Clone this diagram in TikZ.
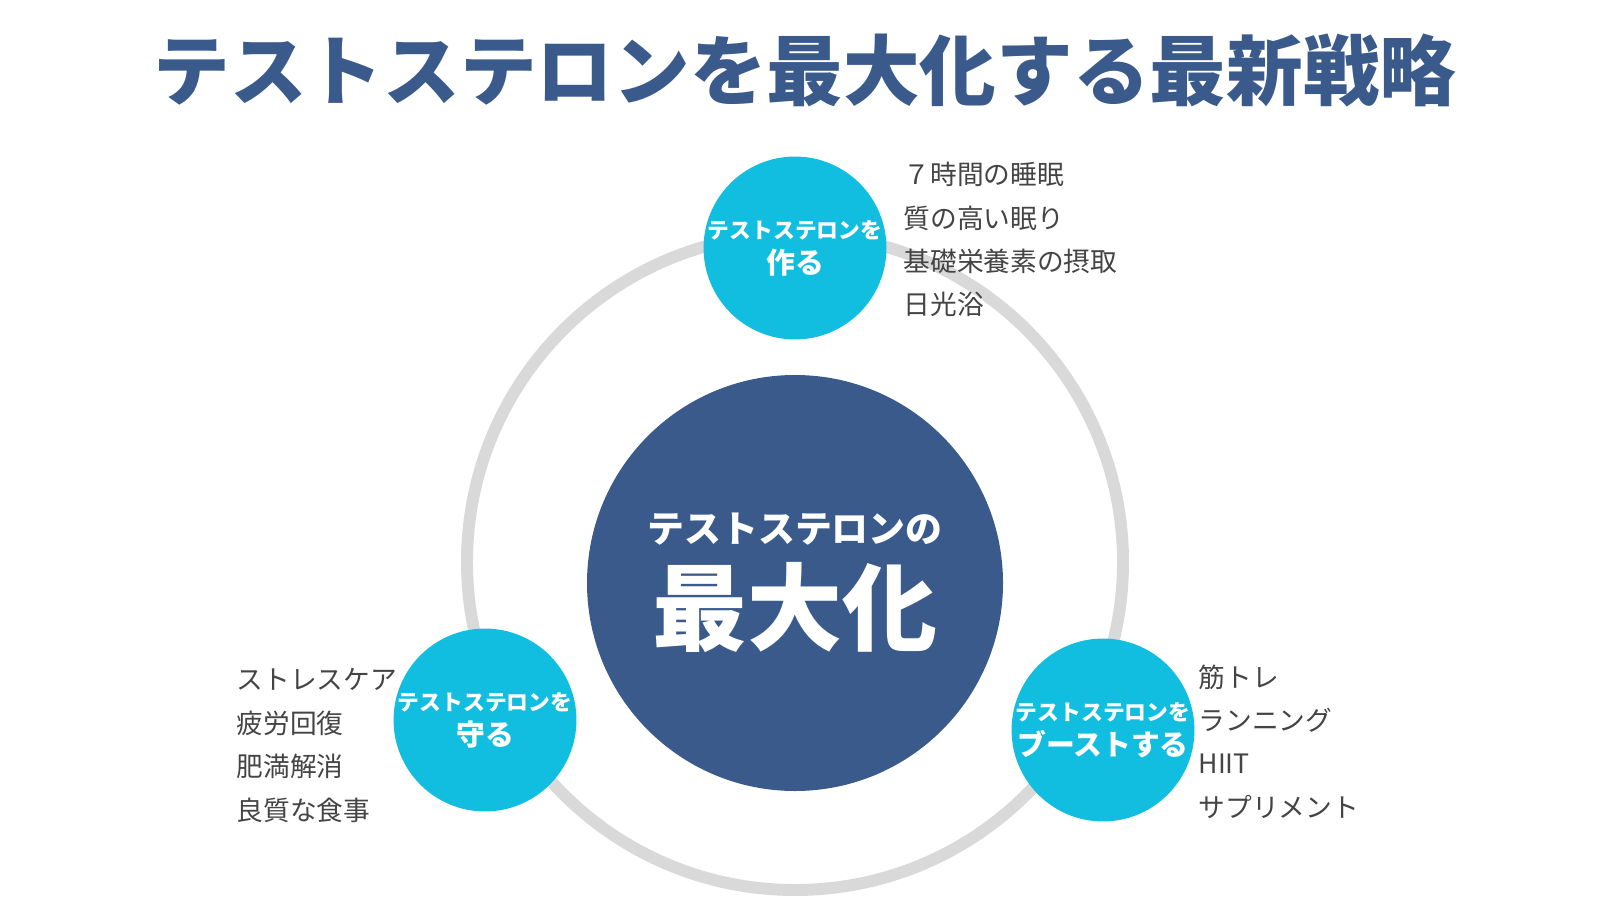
\documentclass[tikz,border=0pt]{standalone}
\usepackage{fontspec}
\setmainfont{Noto Sans CJK JP}
\definecolor{navy}{HTML}{3A5A8C}
\definecolor{cyanball}{HTML}{12BEDF}
\definecolor{ringgray}{HTML}{D9D9D9}
\definecolor{listgray}{HTML}{444444}
\tikzset{
  ball/.style={circle, fill=cyanball, text=white, minimum size=1.8cm, inner sep=0pt, align=center, font=\bfseries\fontsize{6.2}{8}\selectfont},
  item/.style={anchor=west, text=listgray, inner sep=0pt, font=\fontsize{7.6}{9}\selectfont}
}
\begin{document}
\begin{tikzpicture}
  \useasboundingbox (0,0) rectangle (16,9);
  \node [text=navy, font=\bfseries\fontsize{21.8}{24}\selectfont] (title) at (8.05,8.3) {テストステロンを最大化する最新戦略};
  \draw [ringgray, line width=3.4pt] (7.95,3.38) circle (3.28cm);
  \node [circle, fill=navy, text=white, minimum size=4.16cm, align=center, inner sep=0pt] (core) at (7.95,3.17)
    {{\bfseries\fontsize{10.5}{12}\selectfont テストステロンの}\\[4pt]{\bfseries\fontsize{27}{30}\selectfont 最大化}};
  % outer balls
  \node [ball] (make) at (7.95,6.52) {テストステロンを\\[2pt]{\fontsize{8.2}{10}\selectfont 作る}};
  \node [ball] (keep) at (4.85,1.8) {テストステロンを\\[2pt]{\fontsize{8.2}{10}\selectfont 守る}};
  \node [ball] (boost) at (11.03,1.7) {テストステロンを\\[2pt]{\fontsize{8.2}{10}\selectfont ブーストする}};
  % lists
  \node [item] (m1) at (9.03,7.26) {７時間の睡眠};
  \node [item] (m2) at (9.03,6.82) {質の高い眠り};
  \node [item] (m3) at (9.03,6.39) {基礎栄養素の摂取};
  \node [item] (m4) at (9.03,5.96) {日光浴};
  \node [item] (k1) at (2.36,2.21) {ストレスケア};
  \node [item] (k2) at (2.36,1.77) {疲労回復};
  \node [item] (k3) at (2.36,1.34) {肥満解消};
  \node [item] (k4) at (2.36,0.90) {良質な食事};
  \node [item] (b1) at (11.98,2.23) {筋トレ};
  \node [item] (b2) at (11.98,1.80) {ランニング};
  \node [item] (b3) at (11.98,1.36) {HIIT};
  \node [item] (b4) at (11.98,0.93) {サプリメント};
\end{tikzpicture}
\end{document}
